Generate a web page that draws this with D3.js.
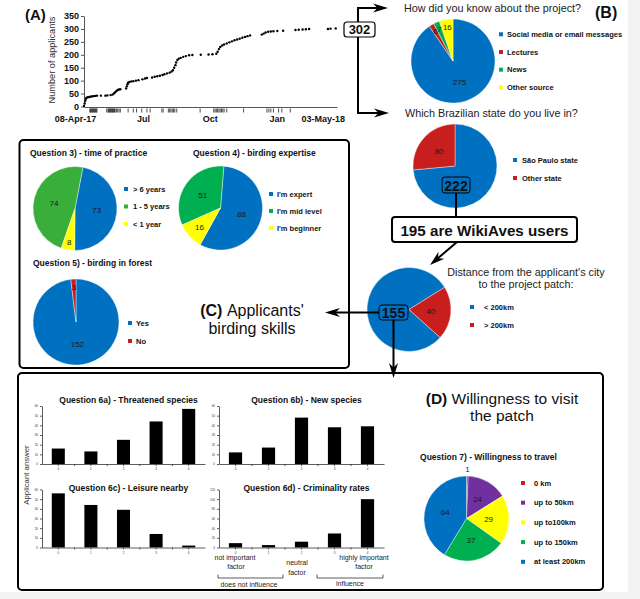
<!DOCTYPE html>
<html>
<head>
<meta charset="utf-8">
<script src="https://cdn.jsdelivr.net/npm/d3@7"></script>
<style>
  body { margin: 0; background: #f3f3f3; }
  svg { display: block; font-family: "Liberation Sans", Arial, sans-serif; }
</style>
</head>
<body>
<svg id="svg"></svg>
<script>
// (A) cumulative applicants, days since 08-Apr-17
const appDays = [0, 1, 2, 3, 4, 6, 8, 10, 12, 14, 17, 20, 26, 33, 36, 41, 44, 46, 48, 50, 52, 54, 56,
  65, 66, 67, 68, 70, 73, 76, 80, 84, 90, 94, 97, 105, 109, 113, 117, 121, 124, 128, 132, 135, 137,
  139, 141, 142, 144, 146, 149, 153, 157, 162, 167, 180, 192, 198, 204, 206, 208, 210, 213, 216, 220,
  224, 228, 232, 236, 240, 244, 248, 252, 256, 274, 277, 280, 284, 288, 292, 298, 307, 326, 331, 337,
  342, 347, 376, 380, 388];
const appCounts = [2, 12, 22, 30, 34, 36, 37, 38, 39, 40, 41, 42, 42, 42, 43, 44, 46, 50, 55, 60, 64, 66, 67,
  70, 78, 86, 92, 95, 97, 98, 100, 102, 105, 108, 110, 112, 115, 117, 119, 122, 125, 128, 131, 135, 140,
  150, 160, 170, 180, 185, 188, 192, 195, 198, 199, 200, 201, 202, 204, 212, 222, 230, 236, 240, 244,
  248, 252, 256, 259, 262, 266, 269, 272, 275, 278, 282, 286, 289, 290, 291, 292, 293, 296, 297, 298,
  299, 300, 300, 301, 302];
const rugDays = [9, 10, 11, 12, 13, 14, 15, 16, 17, 18, 19, 20, 35, 37, 38, 39, 40, 41, 42, 43, 44, 45, 46,
  47, 48, 50, 52, 54, 56, 68, 76, 81, 89, 97, 102, 120, 122, 130, 132, 134, 136, 138, 140, 143, 179,
  200, 202, 204, 206, 208, 210, 212, 214, 216, 220, 246, 282, 285, 288, 292, 300, 305, 318];
const dateTickDays = [-14, 91, 194, 297, 368];
const dateTickLabels = ["08-Apr-17", "Jul", "Oct", "Jan", "03-May-18"];
const countTicks = [0, 50, 100, 150, 200, 250, 300, 350];

// (B)
const sourceLabels = ["Social media or email messages", "Lectures", "News", "Other source"];
const sourceValues = [275, 6, 7, 16];
const stateLabels = ["São Paulo state", "Other state"];
const stateValues = [222, 80];
const distanceLabels = ["< 200km", "> 200km"];
const distanceValues = [155, 40];

// (C)
const practiceLabels = ["> 6 years", "1 - 5 years", "< 1 year"];
const practiceValues = [73, 74, 8];
const expertiseLabels = ["I'm expert", "I'm mid level", "I'm beginner"];
const expertiseValues = [88, 51, 16];
const forestLabels = ["Yes", "No"];
const forestValues = [152, 3];

// (D)
const scoreCategories = ["0", "1", "2", "3", "4"];
const threatenedValues = [16, 13, 25, 44, 57];
const newSpeciesValues = [12, 17, 48, 38, 39];
const leisureValues = [56, 44, 39, 14, 2];
const criminalityValues = [9, 5, 12, 29, 100];
const travelLabels = ["0 km", "up to 50km", "up to100km", "up to 150km", "at least 200km"];
const travelValues = [1, 24, 29, 37, 64];

const blue = "#0070c0", red = "#c81e1e", green = "#00b050", green2 = "#3aae3a",
      yellow = "#ffff00", purple = "#7030a0";

const w = 640;
const h = 599;
let svg = d3.select("#svg").attr("width", w).attr("height", h);
svg.append("rect").attr("width", 628).attr("height", 592).attr("fill", "#fff");

function txt(x, y, s, size, opts) {
  opts = opts || {};
  return svg.append("text")
    .attr("x", x).attr("y", y)
    .attr("font-size", size + "px")
    .attr("font-weight", opts.bold ? "bold" : null)
    .attr("text-anchor", opts.anchor || "start")
    .attr("dy", opts.dy || null)
    .attr("fill", opts.fill || "#111")
    .text(s);
}

function arrow(x1, y1, x2, y2) {
  const a = Math.atan2(y2 - y1, x2 - x1);
  svg.append("line")
    .attr("x1", x1).attr("y1", y1)
    .attr("x2", x2 - 10 * Math.cos(a)).attr("y2", y2 - 10 * Math.sin(a))
    .attr("stroke", "#000").attr("stroke-width", 2);
  svg.append("path")
    .attr("d", "M0,0 L-15,-4.5 L-10.5,0 L-15,4.5 Z")
    .attr("transform", "translate(" + x2 + "," + y2 + ") rotate(" + (a * 180 / Math.PI) + ")")
    .attr("fill", "#000");
}

function box(x, y, bw, bh, fill, sw, rx) {
  svg.append("rect")
    .attr("x", x).attr("y", y).attr("width", bw).attr("height", bh)
    .attr("rx", rx).attr("fill", fill).attr("stroke", "#000").attr("stroke-width", sw);
}

function drawPie(cx, cy, r, values, colors, startDeg, dir, noLabel) {
  const total = d3.sum(values);
  const a0 = startDeg * Math.PI / 180;
  const pie = d3.pie().sort(null).startAngle(a0).endAngle(a0 + dir * 2 * Math.PI);
  const arc = d3.arc().innerRadius(0).outerRadius(r);
  const g = svg.append("g").attr("transform", "translate(" + cx + "," + cy + ")");
  const arcs = pie(values);
  g.selectAll("path")
    .data(arcs)
    .enter()
    .append("path")
    .attr("d", arc)
    .attr("fill", (d, i) => colors[i])
    .attr("stroke", "#fff")
    .attr("stroke-width", 0.4);
  g.selectAll("text")
    .data(arcs.filter((d, i) => !(noLabel || []).includes(i)))
    .enter()
    .append("text")
    .attr("x", d => {
      const f = d.value / total;
      const lr = f < 0.01 ? 1.15 * r : f < 0.06 ? 0.82 * r : f < 0.12 ? 0.68 * r : 0.52 * r;
      return Math.sin((d.startAngle + d.endAngle) / 2) * lr;
    })
    .attr("y", d => {
      const f = d.value / total;
      const lr = f < 0.01 ? 1.15 * r : f < 0.06 ? 0.82 * r : f < 0.12 ? 0.68 * r : 0.52 * r;
      return -Math.cos((d.startAngle + d.endAngle) / 2) * lr;
    })
    .attr("dy", "0.35em")
    .attr("text-anchor", "middle")
    .attr("font-size", "8px")
    .attr("fill", "#1a1a1a")
    .text(d => d.value);
}

function legend(mx, tx, y0, step, labels, colors) {
  labels.forEach((l, i) => {
    svg.append("rect")
      .attr("x", mx - 2).attr("y", y0 + i * step - 2)
      .attr("width", 4).attr("height", 4)
      .attr("fill", colors[i]);
    txt(tx, y0 + i * step, l, 7.5, { bold: true, dy: "0.35em" });
  });
}

function drawBars(values, x0, x1, yBase, yTop, maxV, step, title, titleY) {
  const x = d3.scaleBand().domain(scoreCategories).range([x0, x1]).paddingInner(0.6).paddingOuter(0.3);
  const y = d3.scaleLinear().domain([0, maxV]).range([yBase, yTop]);
  svg.selectAll(null)
    .data(values)
    .enter()
    .append("rect")
    .attr("x", (d, i) => x(scoreCategories[i]))
    .attr("y", d => y(d))
    .attr("width", x.bandwidth())
    .attr("height", d => yBase - y(d))
    .attr("fill", "#000");
  const ya = svg.append("g")
    .attr("transform", "translate(" + x0 + ",0)")
    .call(d3.axisLeft(y).tickValues(d3.range(0, maxV + 1, step)).tickSize(2).tickSizeOuter(0).tickPadding(2));
  const xa = svg.append("g")
    .attr("transform", "translate(0," + yBase + ")")
    .call(d3.axisBottom(x).tickSize(2).tickSizeOuter(0).tickPadding(2));
  [ya, xa].forEach(a => {
    a.selectAll("path, line").attr("stroke", "#333").attr("stroke-width", 0.8);
    a.selectAll("text").attr("font-size", "3px").attr("fill", "#333");
  });
  // small marks between categories
  for (let i = 0; i < scoreCategories.length - 1; i++) {
    const bx = x(scoreCategories[i]) + x.bandwidth() + (x.step() - x.bandwidth()) / 2;
    svg.append("line").attr("x1", bx).attr("x2", bx).attr("y1", yBase).attr("y2", yBase + 2)
      .attr("stroke", "#333").attr("stroke-width", 0.8);
  }
  txt((x0 + x1) / 2 + 5, titleY, title, 8.5, { bold: true, anchor: "middle" });
}

// ---------- (A) applicants over time ----------
const xA = d3.scaleLinear().domain([0, 390]).range([84, 337]);
const yA = d3.scaleLinear().domain([0, 350]).range([106.5, 16]);

let yAxisA = svg.append("g")
  .attr("transform", "translate(84,0)")
  .call(d3.axisLeft(yA).tickValues(countTicks).tickSize(3).tickSizeOuter(0).tickPadding(2));
yAxisA.selectAll("text").attr("font-size", "9px").attr("font-weight", "bold").attr("fill", "#111");
yAxisA.selectAll("path, line").attr("stroke", "#555");

let xAxisA = svg.append("g")
  .attr("transform", "translate(0,107)")
  .call(d3.axisBottom(xA).tickValues(dateTickDays).tickFormat((d, i) => dateTickLabels[i]).tickSize(0).tickPadding(9));
xAxisA.selectAll("text").attr("font-size", "9px").attr("font-weight", "bold").attr("fill", "#111");
xAxisA.select("path").attr("stroke", "#555");

svg.selectAll(".rug")
  .data(rugDays)
  .enter()
  .append("line")
  .attr("class", "rug")
  .attr("x1", d => xA(d)).attr("x2", d => xA(d))
  .attr("y1", 108.5).attr("y2", 112.5)
  .attr("stroke", "#222").attr("stroke-width", 0.8);

svg.selectAll(".dot")
  .data(appDays)
  .enter()
  .append("circle")
  .attr("class", "dot")
  .attr("cx", d => xA(d))
  .attr("cy", (d, i) => yA(appCounts[i]))
  .attr("r", 1.2)
  .attr("fill", "#000");

svg.append("text")
  .attr("transform", "translate(55,60) rotate(-90)")
  .attr("text-anchor", "middle")
  .attr("font-size", "9.2px")
  .attr("fill", "#333")
  .text("Number of applicants");
txt(25, 20, "(A)", 15, { bold: true });

// 302 connector
svg.append("line").attr("x1", 358).attr("x2", 358).attr("y1", 7).attr("y2", 114)
  .attr("stroke", "#000").attr("stroke-width", 2);
arrow(357, 8, 388, 8);
arrow(357, 113, 389, 113);
box(344, 22, 31, 15, "#fff", 1.2, 3);
txt(359.5, 29.5, "302", 13, { bold: true, anchor: "middle", dy: "0.36em" });

// ---------- (B) ----------
txt(404, 12, "How did you know about the project?", 10.8, { fill: "#222" });
txt(595, 18, "(B)", 16, { bold: true });
drawPie(453, 61, 42, sourceValues, [blue, red, green, yellow], 0, 1);
legend(501, 507, 34.3, 17.7, sourceLabels, [blue, red, green, yellow]);

txt(405, 117, "Which Brazilian state do you live in?", 10.8, { fill: "#222" });
drawPie(455, 166, 42, stateValues, [blue, red], 0, 1, [0]);
legend(515, 522, 160, 18, stateLabels, [blue, red]);
svg.append("line").attr("x1", 456).attr("x2", 456).attr("y1", 190).attr("y2", 218)
  .attr("stroke", "#000").attr("stroke-width", 2);
box(442, 177, 28, 16, blue, 1, 3);
txt(456, 185.5, stateValues[0], 14, { bold: true, anchor: "middle", dy: "0.36em" });

box(392, 217, 185, 25, "#fff", 2, 3);
txt(484.5, 235.5, "195 are WikiAves users", 15.2, { bold: true, anchor: "middle" });
arrow(457, 242, 430, 265);

// distance pie
drawPie(409, 309.5, 42, distanceValues, [blue, red], 132, 1, [0]);
txt(526, 276, "Distance from the applicant's city", 10.8, { anchor: "middle", fill: "#222" });
txt(526, 288, "to the project patch:", 10.8, { anchor: "middle", fill: "#222" });
legend(472, 484, 307, 18, distanceLabels, [blue, red]);
arrow(380, 312.5, 325, 312.5);
arrow(393.5, 318, 393.5, 378);
box(379, 305, 29, 15, blue, 1, 3);
txt(393.5, 312.5, distanceValues[0], 14, { bold: true, anchor: "middle", dy: "0.36em" });

// ---------- (C) ----------
box(19.5, 140, 329.5, 228, "none", 2, 4);
txt(30, 155.5, "Question 3) - time of practice", 8.5, { bold: true });
drawPie(75, 208.5, 42, practiceValues, [blue, green2, yellow], 180.5, -1);
legend(126, 133, 189, 17.5, practiceLabels, [blue, green2, yellow]);

txt(193, 155.5, "Question 4) - birding expertise", 8.5, { bold: true });
drawPie(220.5, 208, 42, expertiseValues, [blue, green, yellow], 209, -1);
legend(271, 277, 194, 17, expertiseLabels, [blue, green, yellow]);

txt(33, 265.5, "Question 5) - birding in forest", 8.5, { bold: true });
drawPie(76, 322, 43, forestValues, [blue, red], 0, 1);
legend(130, 136, 323, 18, forestLabels, [blue, red]);

let cText = svg.append("text").attr("x", 252).attr("y", 316).attr("text-anchor", "middle")
  .attr("font-size", "16px").attr("fill", "#111");
cText.append("tspan").attr("font-weight", "bold").text("(C) ");
cText.append("tspan").text("Applicants'");
txt(252, 333.5, "birding skills", 16, { anchor: "middle" });

// ---------- (D) ----------
box(18, 373, 585, 217, "none", 2, 4);
drawBars(threatenedValues, 42, 205, 464, 406, 60, 10, "Question 6a) - Threatened species", 403);
drawBars(newSpeciesValues, 219, 384, 464, 406, 60, 10, "Question 6b) - New species", 403);
drawBars(leisureValues, 42, 205, 547.5, 489.5, 60, 10, "Question 6c) - Leisure nearby", 490.5);
drawBars(criminalityValues, 219, 384, 547.5, 489.5, 120, 20, "Question 6d) - Criminality rates", 490.5);

svg.append("text")
  .attr("transform", "translate(29,475) rotate(-90)")
  .attr("text-anchor", "middle")
  .attr("font-size", "7.8px")
  .attr("fill", "#333")
  .text("Applicant answer");

txt(235, 558, "not important", 7, { anchor: "middle", dy: "0.35em", fill: "#222" });
txt(236, 567, "factor", 7, { anchor: "middle", dy: "0.35em", fill: "#222" });
txt(297, 563, "neutral", 7, { anchor: "middle", dy: "0.35em", fill: "#222" });
txt(297, 573, "factor", 7, { anchor: "middle", dy: "0.35em", fill: "#222" });
txt(364, 558, "highly important", 7, { anchor: "middle", dy: "0.35em", fill: "#222" });
txt(364, 567, "factor", 7, { anchor: "middle", dy: "0.35em", fill: "#222" });
[[218, 283], [317, 383]].forEach(b => {
  svg.append("path")
    .attr("d", "M" + b[0] + ",574.5 V578 H" + b[1] + " V574.5")
    .attr("fill", "none").attr("stroke", "#333").attr("stroke-width", 0.8);
});
txt(249, 584.5, "does not influence", 7, { anchor: "middle", dy: "0.35em", fill: "#222" });
txt(350, 583.5, "influence", 7, { anchor: "middle", dy: "0.35em", fill: "#222" });

let dText = svg.append("text").attr("x", 502).attr("y", 404).attr("text-anchor", "middle")
  .attr("font-size", "15.5px").attr("fill", "#111");
dText.append("tspan").attr("font-weight", "bold").text("(D) ");
dText.append("tspan").text("Willingness to visit");
txt(502, 421, "the patch", 15.5, { anchor: "middle" });

txt(488.5, 460, "Question 7) - Willingness to travel", 8.5, { bold: true, anchor: "middle" });
drawPie(466.5, 518.5, 42.5, travelValues, [red, purple, yellow, green, blue], 0, 1);
legend(523, 534, 483, 19.7, travelLabels, [red, purple, yellow, green, blue]);
</script>
</body>
</html>
